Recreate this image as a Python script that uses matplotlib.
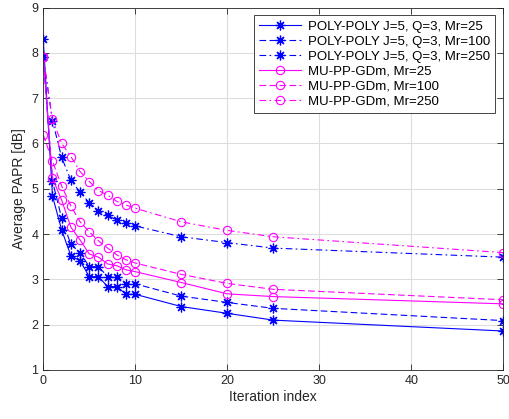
import matplotlib
matplotlib.use("Agg")
import matplotlib.pyplot as plt

plt.rcParams['font.family'] = ['Liberation Sans', 'DejaVu Sans']

iters = [0, 1, 2, 3, 4, 5, 6, 7, 8, 9, 10, 15, 20, 25, 50]

poly_25 = [8.30, 4.84, 4.09, 3.52, 3.41, 3.06, 3.06, 2.84, 2.84, 2.67, 2.67, 2.40, 2.25, 2.10, 1.86]
poly_100 = [7.90, 5.17, 4.35, 3.77, 3.59, 3.28, 3.28, 3.06, 3.06, 2.90, 2.90, 2.63, 2.49, 2.36, 2.09]
poly_250 = [7.90, 6.50, 5.69, 5.19, 4.92, 4.69, 4.52, 4.41, 4.31, 4.25, 4.18, 3.94, 3.81, 3.69, 3.49]
mu_25 = [7.90, 5.23, 4.75, 4.15, 3.87, 3.56, 3.49, 3.34, 3.30, 3.21, 3.17, 2.93, 2.68, 2.62, 2.46]
mu_100 = [6.19, 5.61, 5.06, 4.62, 4.27, 4.05, 3.85, 3.69, 3.54, 3.43, 3.36, 3.11, 2.91, 2.78, 2.55]
mu_250 = [7.90, 6.53, 6.00, 5.71, 5.38, 5.16, 4.96, 4.86, 4.72, 4.64, 4.57, 4.27, 4.08, 3.94, 3.59]

labels = ['POLY-POLY J=5, Q=3, Mr=25', 'POLY-POLY J=5, Q=3, Mr=100',
          'POLY-POLY J=5, Q=3, Mr=250', 'MU-PP-GDm, Mr=25',
          'MU-PP-GDm, Mr=100', 'MU-PP-GDm, Mr=250']

fig = plt.figure(figsize=(5.09, 4.19), dpi=100)
ax = fig.add_axes([0.085, 0.117, 0.904, 0.865])

blue = '#0000FF'
mag = '#FF00FF'
ls_list = ['-', (0, (6, 3)), (0, (6, 3, 1.5, 3))]
for ys, ls, lab in zip([poly_25, poly_100, poly_250], ls_list, labels[:3]):
    ax.plot(iters, ys, color=blue, linestyle=ls, marker=(8, 2, 0), markersize=7,
            markeredgewidth=0.9, linewidth=0.8, label=lab)
for ys, ls, lab in zip([mu_25, mu_100, mu_250], ls_list, labels[3:]):
    ax.plot(iters, ys, color=mag, linestyle=ls, marker='o', markersize=6,
            markerfacecolor='none', markeredgewidth=0.8, linewidth=0.8, label=lab)

ax.set_xlim(0, 50)
ax.set_ylim(1, 9)
ax.set_xticks([0, 10, 20, 30, 40, 50])
ax.set_yticks(range(1, 10))
ax.grid(True, color='#DDDDDD', linewidth=0.8)
ax.set_axisbelow(True)
ax.tick_params(direction='in', labelsize=9, colors='#262626', length=4, width=0.6,
               top=True, right=True)
for s in ax.spines.values():
    s.set_color('#262626')
    s.set_linewidth(0.6)
ax.set_xlabel('Iteration index', fontsize=10, color='#262626', labelpad=2)
ax.set_ylabel('Average PAPR [dB]', fontsize=10, color='#262626', labelpad=4)

leg = ax.legend(loc='upper right', fontsize=9.5, frameon=True, fancybox=False,
                edgecolor='#262626', framealpha=1, handlelength=3.2,
                borderaxespad=0.6, labelspacing=0.2, borderpad=0.4,
                handletextpad=0.5)
leg.get_frame().set_linewidth(0.6)

fig.savefig('out.png', dpi=100)
